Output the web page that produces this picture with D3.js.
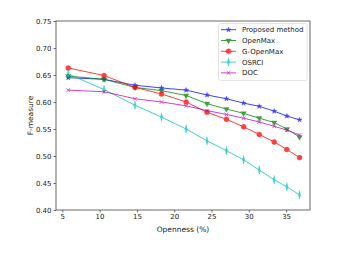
<!DOCTYPE html>
<html>
<head>
<meta charset="utf-8">
<script src="https://cdn.jsdelivr.net/npm/d3@7"></script>
<style>
  body { margin: 0; background: #fff; }
  text { font-family: "DejaVu Sans", sans-serif; fill: #222; }
</style>
</head>
<body>
<script>
// openness values (%) shared by every series
var openness = [5.8, 10.6, 14.75, 18.3, 21.6, 24.4, 27.0, 29.3, 31.4, 33.4, 35.1, 36.8];

var proposed = [0.645, 0.642, 0.631, 0.626, 0.622, 0.613, 0.606, 0.598, 0.592, 0.583, 0.574, 0.567];
var openmax  = [0.648, 0.642, 0.627, 0.621, 0.612, 0.597, 0.587, 0.579, 0.570, 0.562, 0.550, 0.535];
var gopenmax = [0.663, 0.649, 0.627, 0.615, 0.600, 0.581, 0.568, 0.554, 0.540, 0.526, 0.512, 0.497];
var osrci    = [0.652, 0.623, 0.594, 0.572, 0.550, 0.528, 0.510, 0.493, 0.474, 0.456, 0.443, 0.428];
var doc      = [0.622, 0.619, 0.606, 0.600, 0.593, 0.584, 0.577, 0.570, 0.563, 0.555, 0.548, 0.539];

var seriesNames = ["Proposed method", "OpenMax", "G-OpenMax", "OSRCI", "DOC"];
var xTicks = [5, 10, 15, 20, 25, 30, 35];
var yTicks = [0.40, 0.45, 0.50, 0.55, 0.60, 0.65, 0.70, 0.75];

window.onload = function() {
    var w = 357, h = 253;
    var left = 56, right = 310, top = 21, bottom = 210;

    var svg = d3.select("body").append("svg")
        .attr("width", w)
        .attr("height", h);

    var x = d3.scaleLinear().domain([4.16, 38.2]).range([left, right]);
    var y = d3.scaleLinear().domain([0.40, 0.75]).range([bottom, top]);

    var series = [
        {name: seriesNames[0], values: proposed, color: "#0000ff", marker: "star"},
        {name: seriesNames[1], values: openmax,  color: "#008000", marker: "tri"},
        {name: seriesNames[2], values: gopenmax, color: "#ff0000", marker: "circle"},
        {name: seriesNames[3], values: osrci,    color: "#00bfbf", marker: "diamond"},
        {name: seriesNames[4], values: doc,      color: "#bf00bf", marker: "x"}
    ];

    // axes
    var xAxis = d3.axisBottom(x).tickValues(xTicks).tickSize(2.5).tickPadding(2);
    var yAxis = d3.axisLeft(y).tickValues(yTicks).tickSize(2.5).tickPadding(2)
        .tickFormat(d3.format(".2f"));

    var gx = svg.append("g").attr("transform", "translate(0," + bottom + ")").call(xAxis);
    var gy = svg.append("g").attr("transform", "translate(" + left + ",0)").call(yAxis);
    [gx, gy].forEach(function(g) {
        g.select(".domain").remove();
        g.selectAll(".tick line").attr("stroke", "#333").attr("stroke-width", 0.7);
        g.selectAll(".tick text").style("font-size", "7px").attr("fill", "#222");
    });

    // frame
    svg.append("rect")
        .attr("x", left).attr("y", top)
        .attr("width", right - left).attr("height", bottom - top)
        .attr("fill", "none").attr("stroke", "#444").attr("stroke-width", 0.8);

    function markerPath(type) {
        if (type == "star") return d3.symbol(d3.symbolStar, 8)();
        if (type == "tri") return d3.symbol(d3.symbolTriangle, 13)();
        if (type == "circle") return d3.symbol(d3.symbolCircle, 20)();
        if (type == "diamond") return d3.symbol(d3.symbolDiamond, 13)();
        return "M-1.8,-1.8L1.8,1.8M-1.8,1.8L1.8,-1.8";
    }
    function markerTransform(type) {
        if (type == "tri") return " rotate(180)";
        if (type == "diamond") return " scale(0.6,1.3)";
        return "";
    }

    var line = d3.line()
        .x(function(d, i) { return x(openness[i]); })
        .y(function(d) { return y(d); });

    series.forEach(function(s) {
        var g = svg.append("g").attr("opacity", 0.75);
        g.append("path")
            .attr("d", line(s.values))
            .attr("fill", "none")
            .attr("stroke", s.color)
            .attr("stroke-width", 1);
        g.selectAll(".m")
            .data(s.values)
            .enter().append("path")
            .attr("d", markerPath(s.marker))
            .attr("transform", function(d, i) {
                return "translate(" + x(openness[i]) + "," + y(d) + ")" + markerTransform(s.marker);
            })
            .attr("fill", s.color)
            .attr("stroke", s.color)
            .attr("stroke-width", s.marker == "x" ? 0.9 : 0.4);
    });

    // legend
    var lg = svg.append("g");
    lg.append("rect")
        .attr("x", 218.5).attr("y", 23.5)
        .attr("width", 88.5).attr("height", 57)
        .attr("rx", 2)
        .attr("fill", "#fff").attr("fill-opacity", 0.8)
        .attr("stroke", "#ddd").attr("stroke-width", 0.8);
    series.forEach(function(s, i) {
        var yy = 29.7 + i * 10.8;
        var e = lg.append("g").attr("opacity", 0.75);
        e.append("line")
            .attr("x1", 221).attr("x2", 236)
            .attr("y1", yy).attr("y2", yy)
            .attr("stroke", s.color).attr("stroke-width", 1);
        e.append("path")
            .attr("d", markerPath(s.marker))
            .attr("transform", "translate(228.5," + yy + ")" + markerTransform(s.marker))
            .attr("fill", s.color)
            .attr("stroke", s.color)
            .attr("stroke-width", s.marker == "x" ? 0.9 : 0.4);
        lg.append("text")
            .attr("x", 242).attr("y", yy + 2.5)
            .style("font-size", "7px")
            .text(s.name);
    });

    // axis labels
    svg.append("text")
        .attr("x", (left + right) / 2).attr("y", 232)
        .attr("text-anchor", "middle")
        .style("font-size", "7.5px")
        .text("Openness (%)");
    svg.append("text")
        .attr("transform", "translate(33," + (top + bottom) / 2 + ") rotate(-90)")
        .attr("text-anchor", "middle")
        .style("font-size", "7.5px")
        .text("F-measure");
};
</script>
</body>
</html>
